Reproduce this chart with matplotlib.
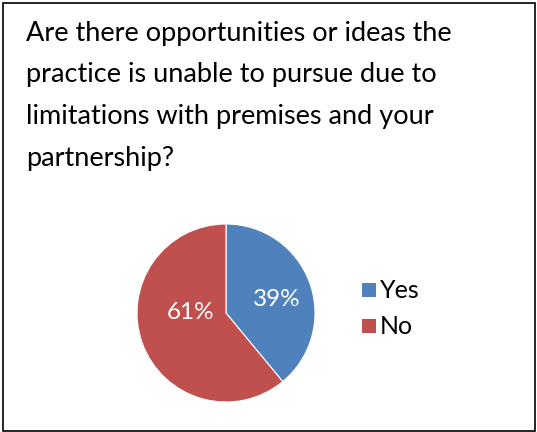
import matplotlib as mpl
mpl.use('Agg')
import matplotlib.pyplot as plt
from matplotlib.patches import Rectangle

# survey answers
labels = ['Yes', 'No']
shares = [39, 61]
colors = ['#4F81BD', '#C0504D']
title_lines = ['Are there opportunities or ideas the',
               'practice is unable to pursue due to',
               'limitations with premises and your',
               'partnership?']

W, H = 537, 432
fig = plt.figure(figsize=(W / 100, H / 100), dpi=100)
plt.rcParams['font.family'] = ['Lato', 'DejaVu Sans']

# outer frame
fig.patches.append(Rectangle((3 / W, 1.5 / H), (W - 5) / W, (H - 4.5) / H,
                             transform=fig.transFigure, fill=False,
                             edgecolor='black', linewidth=1.2))

# title, one line at a time
for i, line in enumerate(title_lines):
    y = 33 + i * 41.7
    fig.text(26 / W, 1 - y / H, line, fontsize=19.5, color='black',
             ha='left', va='center')

# pie: centre at (226, 313) px, radius 89 px
cx, cy, r = 226, 313, 89
ax = fig.add_axes([(cx - r) / W, 1 - (cy + r) / H, 2 * r / W, 2 * r / H])
wedges, _, pcts = ax.pie(shares, colors=colors, startangle=90, counterclock=False,
                         autopct='%d%%', pctdistance=0.6,
                         wedgeprops=dict(linewidth=0.8, edgecolor='white'),
                         textprops=dict(color='white', fontsize=17.5))
pcts[0].set_position((0.57, 0.15))
pcts[1].set_position((-0.40, 0.01))
ax.set_xlim(-1, 1)
ax.set_ylim(-1, 1)
ax.set_aspect('equal')
ax.axis('off')

# legend
for i, (lab, col) in enumerate(zip(labels, colors)):
    yc = 290 + i * 36
    fig.patches.append(Rectangle((362 / W, 1 - (yc + 7) / H), 14 / W, 14 / H,
                                 transform=fig.transFigure, facecolor=col,
                                 edgecolor='none'))
    fig.text(380 / W, 1 - yc / H, lab, fontsize=18, color='black',
             ha='left', va='center')

plt.savefig('out.png', dpi=100)
